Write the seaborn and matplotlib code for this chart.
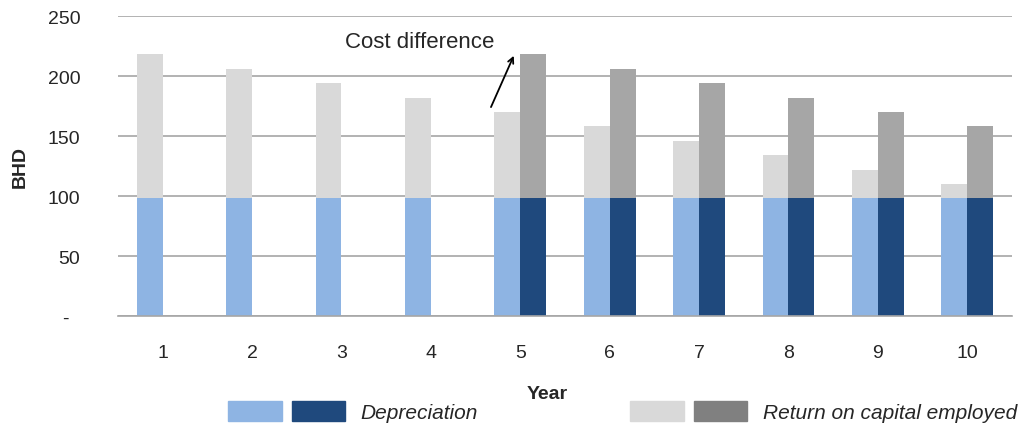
import pandas as pd
import seaborn as sns
import matplotlib.pyplot as plt
from matplotlib.patches import Patch
from matplotlib.legend_handler import HandlerTuple
from matplotlib.ticker import FixedLocator

# values
years = [1, 2, 3, 4, 5, 6, 7, 8, 9, 10]
depreciation = [98, 98, 98, 98, 98, 98, 98, 98, 98, 98]
roce_old = [120, 108, 96, 84, 72, 60, 48, 36, 24, 12]
years_new = [5, 6, 7, 8, 9, 10]
depreciation_new = [98, 98, 98, 98, 98, 98]
roce_new = [120, 108, 96, 84, 72, 60]
ytick_vals = [0, 50, 100, 150, 200, 250]
ytick_labels = ['-  ', '50', '100', '150', '200', '250']

old = pd.DataFrame({'Year': years, 'dep': depreciation, 'roce': roce_old, 'grp': 'old'})
new = pd.DataFrame({'Year': years_new, 'dep': depreciation_new, 'roce': roce_new, 'grp': 'new'})
data = pd.concat([old, new], ignore_index=True)
data['total'] = data['dep'] + data['roce']

sns.set_style('white')
plt.rcParams['font.family'] = ['Liberation Sans', 'DejaVu Sans']

fig = plt.figure(figsize=(10.23, 4.27), dpi=100)
ax = fig.add_axes([0.1153, 0.2576, 0.8739, 0.7025])

# stacked bars: total first, depreciation drawn over it
sns.barplot(data=data, x='Year', y='total', hue='grp', hue_order=['old', 'new'],
            order=years, palette=['#D9D9D9', '#A6A6A6'], width=0.58, gap=0,
            saturation=1, linewidth=0, legend=False, ax=ax, zorder=3)
sns.barplot(data=data, x='Year', y='dep', hue='grp', hue_order=['old', 'new'],
            order=years, palette=['#8EB4E3', '#1F497D'], width=0.58, gap=0,
            saturation=1, linewidth=0, legend=False, ax=ax, zorder=3)

ax.set_ylim(0, 250)
ax.set_xlim(-0.5, 9.5)
ax.set_yticks(ytick_vals)
ax.set_yticklabels(ytick_labels)
ax.yaxis.grid(True, color='#A6A6A6', linewidth=1.2, zorder=0)
ax.set_axisbelow(True)
for s in ['top', 'right', 'left']:
    ax.spines[s].set_visible(False)
ax.spines['bottom'].set_color('#A6A6A6')
ax.spines['bottom'].set_linewidth(1.2)
ax.spines['bottom'].set_zorder(4)

ax.tick_params(axis='y', length=0, pad=27, labelsize=14)
ax.tick_params(axis='x', which='major', length=0, pad=20, labelsize=14)
ax.xaxis.set_minor_locator(FixedLocator([i - 0.5 for i in range(11)]))
ax.tick_params(axis='x', which='minor', length=5, color='#A6A6A6', width=1.2, direction='out')

ax.set_xlabel('Year', fontsize=14, fontweight='bold')
ax.xaxis.set_label_coords(0.48, -0.23)
ax.set_ylabel('BHD', fontsize=14, fontweight='bold')
ax.yaxis.set_label_coords(-0.1, 0.5)

ax.annotate('', xy=(3.94, 219), xytext=(3.66, 172),
            arrowprops=dict(arrowstyle='->', color='black', lw=1.3))
ax.text(2.88, 229, 'Cost difference', fontsize=16, ha='center', va='center')

handles = [(Patch(color='#8EB4E3'), Patch(color='#1F497D')),
           (Patch(color='#D9D9D9'), Patch(color='#808080'))]
fig.legend(handles=handles, labels=['Depreciation', 'Return on capital employed'],
           handler_map={tuple: HandlerTuple(ndivide=None, pad=0.48)},
           ncol=2, frameon=False, loc='lower left', bbox_to_anchor=(0.205, -0.035),
           handlelength=5.6, handleheight=1.1, handletextpad=0.75, columnspacing=7.3,
           prop={'style': 'italic', 'size': 15})

fig.savefig('out.png', dpi=100)
